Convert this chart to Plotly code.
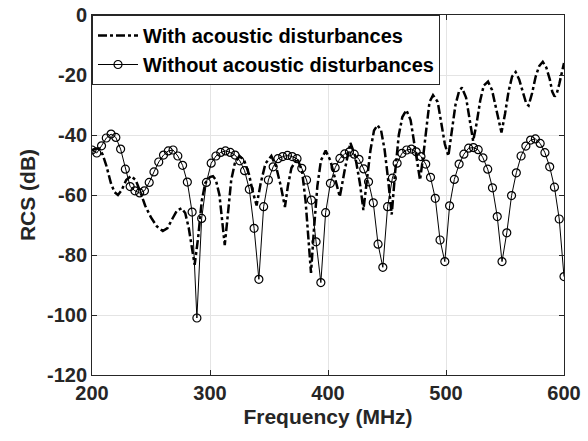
import numpy as np
import plotly.graph_objects as go

# "Without acoustic disturbances": 100 samples evenly spaced 200..600 MHz
freq_without = np.linspace(200, 600, 100)
rcs_without = [
    -45, -46, -43.6, -41, -39.7, -40.8, -44.7, -51.4, -57.2, -58.6,
    -59.3, -58.6, -55.8, -52.3, -49, -46.7, -45.3, -45, -47, -50.1,
    -55.7, -65.7, -101, -67.8, -55.8, -49.4, -47, -45.8, -45.3, -45.8,
    -46.7, -48.6, -51.9, -58.1, -71.1, -88.1, -63.9, -55, -50.6, -47.9,
    -47.2, -46.8, -47.2, -47.9, -51.1, -55, -61.7, -75.6, -89.2, -65.9,
    -56.1, -50.9, -47.8, -46.3, -45.6, -46.4, -48.1, -51.3, -55.6, -62.6,
    -76.4, -84.1, -63.9, -54.4, -49.4, -46.1, -45, -44.7, -45.6, -47.2,
    -49.7, -54.1, -61.1, -75, -82.2, -63.6, -54.8, -49.7, -46.4, -44.4,
    -44.2, -44.9, -47.6, -51.4, -57.6, -67.2, -82.2, -72.6, -60.2, -52.6,
    -47, -43.7, -41.7, -41.3, -42.8, -45.9, -50.6, -57.4, -68, -87.2,
]

# "With acoustic disturbances": points
freq_with = [
    200, 203, 206, 209, 212, 216, 219, 222, 225, 229, 233, 237, 241, 245, 250,
    255, 260, 264, 268, 272, 276, 279, 282, 285, 287, 290, 293, 296, 300, 302.5,
    305, 308, 310, 312.5, 315, 318, 321, 325, 329, 333, 336, 339.5, 343, 347,
    352, 356, 360, 363.5, 366, 369, 374, 378, 381, 384, 385.6, 388, 391, 394,
    398, 402, 406, 410, 414, 419, 423, 427, 430, 433, 436, 439, 442, 445, 448,
    451, 454, 457, 460, 463, 466.4, 470, 473, 476, 478, 481, 484, 486, 489, 493,
    496, 499, 502, 505, 508, 511, 513.5, 517, 520, 523, 526, 529, 532, 535.6,
    539, 542, 545, 547, 550, 553, 556, 559, 562, 565, 568, 570, 573, 576, 579,
    582, 585, 588, 590, 592, 594, 596, 598, 600,
]
rcs_with = [
    -45, -44.5, -44.5, -46.5, -50, -56, -59, -60, -58.5, -55, -53.7, -55, -59, -63.5, -67.5,
    -70.5, -72, -71, -68, -65.2, -64.4, -66, -71, -78, -83.3, -74, -62, -56, -54, -53.7,
    -55, -60, -67, -76.7, -67, -55, -49.5, -47, -48.5, -53, -58.5, -63.5, -56, -49.5,
    -47, -50.5, -57, -64, -57, -51, -47.8, -52, -62, -78, -86, -72, -57, -48.5,
    -45.2, -48.5, -55, -60.6, -52, -42.6, -47, -56, -65, -55, -45, -38.5, -36.7, -38.5, -45,
    -55, -66.5, -52, -40, -34, -31.7, -35, -42, -50, -55, -46, -35, -29, -26.7, -29,
    -36, -43, -47, -38, -30, -25.5, -24.2, -27.5, -35, -42, -36, -28.5, -23.5, -22.2,
    -25, -30, -36, -39.2, -33, -25.5, -20.5, -19, -21.5, -25.5, -29.5, -30.2, -26, -20.5, -17,
    -15.6, -17.5, -21.5, -25.5, -27.2, -26, -23, -19, -16,
]

x_ticks = [200, 300, 400, 500, 600]
y_ticks = [-120, -100, -80, -60, -40, -20, 0]

FONT = "Liberation Sans, Arial, sans-serif"
TXT = "#262626"

fig = go.Figure()
fig.add_trace(go.Scatter(
    x=freq_with, y=rcs_with, mode="lines",
    name="With acoustic disturbances",
    line=dict(color="black", width=2.5, dash="dashdot"),
))
fig.add_trace(go.Scatter(
    x=freq_without, y=rcs_without, mode="lines+markers",
    name="Without acoustic disturbances",
    line=dict(color="black", width=1),
    marker=dict(symbol="circle-open", size=8, color="black", line=dict(width=1.2, color="black")),
))

axis_common = dict(
    showline=True, linecolor=TXT, linewidth=1, mirror="ticks",
    ticks="inside", ticklen=5, tickcolor=TXT,
    showgrid=True, gridcolor="#e4e4e4", gridwidth=1, zeroline=False,
    tickfont=dict(family=FONT, size=20, color=TXT, weight="bold"),
    automargin=False,
)

fig.update_xaxes(
    range=[200, 600], tickvals=x_ticks, ticktext=[str(v) for v in x_ticks],
    title=dict(text="Frequency (MHz)", font=dict(family=FONT, size=21, color=TXT, weight="bold"), standoff=6),
    **axis_common,
)
fig.update_yaxes(
    range=[-120, 0], tickvals=y_ticks, ticktext=[str(v) for v in y_ticks],
    title=dict(text="RCS (dB)", font=dict(family=FONT, size=21, color=TXT, weight="bold"), standoff=5),
    **axis_common,
)

fig.update_layout(
    width=588, height=441,
    margin=dict(l=92, r=24, t=15, b=66, autoexpand=False),
    paper_bgcolor="white", plot_bgcolor="white",
    showlegend=True,
    legend=dict(
        x=0, y=1, xanchor="left", yanchor="top",
        bgcolor="white", bordercolor=TXT, borderwidth=1,
        font=dict(family=FONT, size=20, color="black", weight="bold"),
        itemwidth=40, tracegroupgap=0,
    ),
)

fig.write_html("out.html")
